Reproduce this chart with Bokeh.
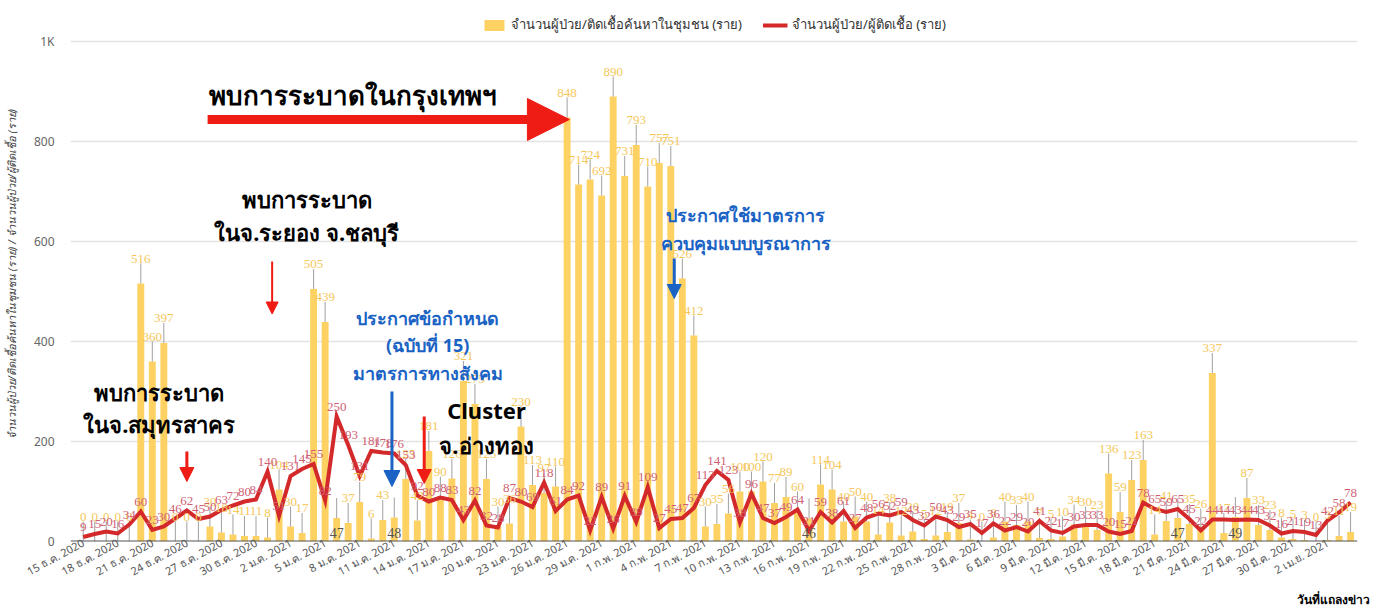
from bokeh.plotting import figure
from bokeh.models import (ColumnDataSource, Range1d, FixedTicker, Legend, LegendItem,
                          Arrow, NormalHead, Label, Span, Title)
from bokeh.embed import file_html
from bokeh.resources import INLINE

# ---------------- data ----------------
community = [0, 0, 0, 0, 0, 516, 360, 397, 0, 0,
             0, 30, 18, 14, 11, 11, 8, 104, 30, 17,
             505, 439, 47, 37, 79, 6, 43, 48, 125, 42,
             181, 90, 126, 321, 275, 125, 30, 36, 230, 113,
             97, 110, 848, 714, 724, 692, 890, 731, 793, 710,
             757, 751, 526, 412, 30, 35, 56, 100, 100, 120,
             77, 89, 60, 46, 114, 104, 40, 50, 40, 14,
             38, 12, 20, 5, 12, 19, 37, 4, 0, 8,
             40, 33, 40, 7, 5, 10, 34, 30, 23, 136,
             59, 123, 163, 14, 41, 47, 35, 26, 337, 17,
             49, 87, 33, 23, 8, 5, 3, 0, 3, 11,
             19]

total = [9, 15, 20, 16, 34, 60, 23, 30, 46, 62,
         45, 50, 63, 72, 80, 84, 140, 51, 131, 145,
         155, 82, 250, 193, 131, 181, 178, 176, 153, 92,
         80, 88, 83, 43, 82, 32, 28, 87, 80, 69,
         118, 61, 84, 92, 22, 89, 26, 91, 39, 109,
         27, 45, 47, 67, 113, 141, 123, 38, 96, 47,
         37, 49, 64, 21, 59, 38, 61, 27, 48, 56,
         52, 59, 43, 32, 50, 43, 29, 35, 17, 36,
         22, 29, 20, 41, 22, 17, 30, 33, 33, 20,
         15, 21, 78, 65, 59, 65, 45, 22, 44, 44,
         43, 44, 43, 32, 16, 21, 19, 13, 42, 58,
         78]

tick_labels = ["15 ธ.ค. 2020", "18 ธ.ค. 2020", "21 ธ.ค. 2020", "24 ธ.ค. 2020",
               "27 ธ.ค. 2020", "30 ธ.ค. 2020", "2 ม.ค. 2021", "5 ม.ค. 2021",
               "8 ม.ค. 2021", "11 ม.ค. 2021", "14 ม.ค. 2021", "17 ม.ค. 2021",
               "20 ม.ค. 2021", "23 ม.ค. 2021", "26 ม.ค. 2021", "29 ม.ค. 2021",
               "1 ก.พ. 2021", "4 ก.พ. 2021", "7 ก.พ. 2021", "10 ก.พ. 2021",
               "13 ก.พ. 2021", "16 ก.พ. 2021", "19 ก.พ. 2021", "22 ก.พ. 2021",
               "25 ก.พ. 2021", "28 ก.พ. 2021", "3 มี.ค. 2021", "6 มี.ค. 2021",
               "9 มี.ค. 2021", "12 มี.ค. 2021", "15 มี.ค. 2021", "18 มี.ค. 2021",
               "21 มี.ค. 2021", "24 มี.ค. 2021", "27 มี.ค. 2021", "30 มี.ค. 2021",
               "2 เม.ย. 2021"]

dark_label_days = [22, 27, 63, 95, 100]

bar_name = "จำนวนผู้ป่วย/ติดเชื้อค้นหาในชุมชน (ราย)"
line_name = "จำนวนผู้ป่วย/ผู้ติดเชื้อ (ราย)"
y_title = "จำนวนผู้ป่วย/ติดเชื้อค้นหาในชุมชน (ราย) / จำนวนผู้ป่วย/ผู้ติดเชื้อ (ราย)"
x_title = "วันที่แถลงข่าว"

# ---------------- sources ----------------
days = list(range(len(community)))
LEAD = 40
light_days = [d for d in days if d not in dark_label_days]
src = ColumnDataSource(dict(day=days, community=community, total=total,
                            lead=[c + LEAD for c in community],
                            total_lbl=[str(v) for v in total]))
bar_lbl_src = ColumnDataSource(dict(day=light_days,
                                    y=[community[d] + LEAD for d in light_days],
                                    txt=[str(community[d]) for d in light_days]))
dark_src = ColumnDataSource(dict(day=dark_label_days,
                                 y=[0] * len(dark_label_days),
                                 txt=[str(community[d]) for d in dark_label_days]))

FONT = "Noto Sans"
p = figure(frame_width=1287, frame_height=535, output_backend="svg",
           toolbar_location=None,
           x_range=Range1d(-1.1, 110.6), y_range=Range1d(0, 1070),
           min_border_left=65, min_border_right=20, min_border_top=6,
           min_border_bottom=0)
p.outline_line_color = None
p.xgrid.grid_line_color = None
p.ygrid.grid_line_color = "#e3e3e3"
p.ygrid.grid_line_width = 1.5

bars = p.vbar(x="day", top="community", width=0.6, source=src,
              fill_color="#fdd263", line_color=None)
p.segment(x0="day", y0="community", x1="day", y1="lead", source=src,
          line_color="#a0a0a0", line_width=1)
ln = p.line(x="day", y="total", source=src, line_color="#d4292b", line_width=4,
            line_join="miter")

p.text(x="day", y="y", text="txt", source=bar_lbl_src, text_align="center",
       text_baseline="bottom", text_color="#f5c75a", text_font_size="13px",
       y_offset=-1, text_font=FONT)
p.text(x="day", y="y", text="txt", source=dark_src, text_align="center",
       text_baseline="bottom", text_color="#555555", text_font_size="14px",
       y_offset=-4, text_font=FONT)
p.text(x="day", y="total", text="total_lbl", source=src, text_align="center",
       text_baseline="bottom", text_color="#cf5f74", text_font_size="13px",
       y_offset=-6, text_font=FONT)

# axes
p.yaxis.ticker = FixedTicker(ticks=[0, 200, 400, 600, 800, 1000])
p.yaxis.major_label_overrides = {1000: "1K"}
p.yaxis.axis_line_color = None
p.yaxis.major_tick_line_color = None
p.yaxis.minor_tick_line_color = None
p.yaxis.major_label_text_color = "#666666"
p.yaxis.major_label_text_font_size = "12px"
p.yaxis.major_label_text_font = FONT
p.yaxis.major_label_standoff = 10
p.yaxis.axis_label = y_title
p.yaxis.axis_label_text_font_size = "11px"
p.yaxis.axis_label_text_font_style = "italic"
p.yaxis.axis_label_text_color = "#444444"
p.yaxis.axis_label_text_font = FONT
p.yaxis.axis_label_standoff = 12

tick_days = list(range(0, 3 * len(tick_labels), 3))
p.xaxis.ticker = FixedTicker(ticks=tick_days)
p.xaxis.major_label_overrides = {t: lab for t, lab in zip(tick_days, tick_labels)}
p.xaxis.major_label_orientation = 0.5
p.xaxis.axis_line_color = None
p.xaxis.major_tick_line_color = None
p.xaxis.minor_tick_line_color = None
p.xaxis.major_tick_out = 0
p.xaxis.major_label_text_color = "#555555"
p.xaxis.major_label_text_font_size = "11px"
p.xaxis.major_label_text_font = FONT
p.xaxis.major_label_standoff = 0

# x title, right-aligned under the axis
p.add_layout(Title(text=x_title, align="right", text_font_size="12px",
                   text_font_style="bold", text_color="black", text_font=FONT,
                   standoff=0, offset=-12), "below")

# baseline across the whole frame
p.add_layout(Span(location=0, dimension="width", line_color="#555555", line_width=2))

# legend (inside the top strip of the frame, above the 1K gridline)
legend = Legend(items=[LegendItem(label=bar_name, renderers=[bars]),
                       LegendItem(label=line_name, renderers=[ln])],
                orientation="horizontal", location="top_center", margin=8,
                border_line_color=None, background_fill_alpha=0,
                label_text_font_size="13px",
                label_text_color="#333333", label_text_font=FONT,
                glyph_width=25, glyph_height=14, spacing=20, padding=4)
p.add_layout(legend)

# annotations
RED = "#ee1c14"
BLUE = "#1a63c4"


def lab(x, y, text, size, color="black"):
    p.add_layout(Label(x=x, y=y, text=text, text_font_size=size,
                       text_font_style="bold", text_align="center",
                       text_baseline="middle", text_color=color, text_font=FONT))


def arrow(x0, y0, x1, y1, color, width, head):
    p.add_layout(Arrow(end=NormalHead(size=head, fill_color=color, line_color=color),
                       x_start=x0, y_start=y0, x_end=x1, y_end=y1,
                       line_color=color, line_width=width))


lab(23.4, 894, "พบการระบาดในกรุงเทพฯ", "26px")
arrow(10.8, 844, 42.2, 844, RED, 9, 42)

lab(19.4, 686, "พบการระบาด", "22px")
lab(19.4, 620, "ในจ.ระยอง จ.ชลบุรี", "22px")
arrow(16.4, 560, 16.4, 455, RED, 2, 12)

lab(29.9, 448, "ประกาศข้อกำหนด", "18px", BLUE)
lab(29.9, 394, "(ฉบับที่ 15)", "18px", BLUE)
lab(29.9, 338, "มาตรการทางสังคม", "18px", BLUE)
arrow(26.8, 300, 26.8, 110, BLUE, 3, 16)

lab(35.0, 264, "Cluster", "22px")
lab(35.0, 194, "จ.อ่างทอง", "22px")
arrow(29.6, 250, 29.6, 116, RED, 3, 14)

lab(6.6, 300, "พบการระบาด", "22px")
lab(6.6, 236, "ในจ.สมุทรสาคร", "22px")
arrow(9.0, 180, 9.0, 120, RED, 3, 14)

lab(57.5, 654, "ประกาศใช้มาตรการ", "18px", BLUE)
lab(57.5, 598, "ควบคุมแบบบูรณาการ", "18px", BLUE)
arrow(51.3, 566, 51.3, 486, BLUE, 3, 14)

open("out.html", "w").write(file_html(p, INLINE))
